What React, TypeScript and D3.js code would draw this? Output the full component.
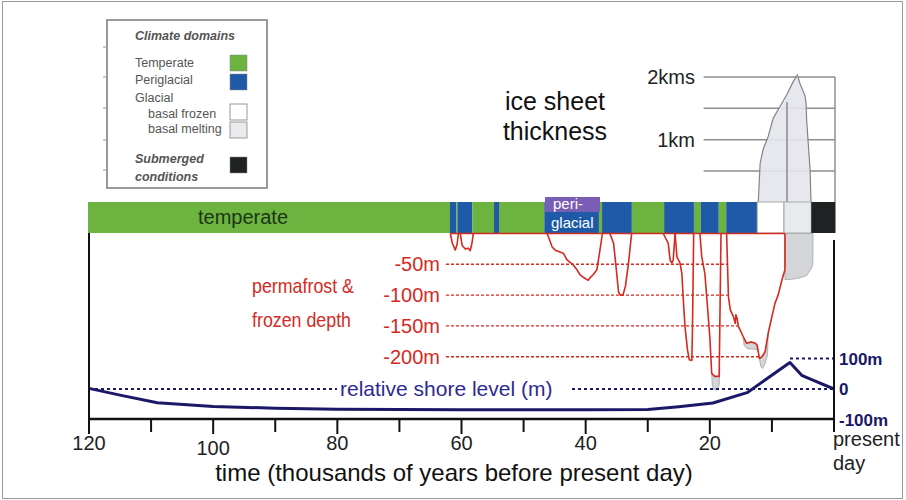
import React from "react";
import * as d3 from "d3";

// ---------- DATA ----------
const X_MAJOR = [120, 100, 80, 60, 40, 20];
const X_MINOR = [110, 90, 70, 50, 30, 10];

// climate domain strip (ky before present)
const BAR_BOUNDS = [120, 61.7, 60.7, 60.5, 58.1, 54.6, 53.8, 46.5, 37.7, 37.2, 32.4, 27.2, 22.4, 21.3, 18.4, 17.2, 12.2, 7.9, 3.5, -0.4];
const BAR_TYPES = ["T", "P", "T", "P", "T", "P", "T", "P", "T", "P", "T", "P", "T", "P", "T", "P", "F", "M", "S"];

// relative shore level (m)
const SHORE_T = [120, 115, 109, 100, 90, 80, 70, 60, 50, 40, 30, 25, 19.5, 14, 7.1, 5.2, 3.4, 0];
const SHORE_M = [2, -20, -45, -57, -63, -66, -67, -68, -68, -68, -67, -58, -46, -12, 87, 45, 29, 0];

// permafrost / frozen depth (ky, m)
const DIP_1 = [[61.8, 0], [61.5, -15], [61.0, -27], [60.7, -17], [60.5, 0]];
const DIP_2 = [[60.2, 0], [59.9, -19], [59.4, -25], [58.9, -24], [58.6, -28], [58.3, -15], [58.1, 0]];
const DIP_3 = [[46.2, 0], [45.4, -22], [44.9, -27], [43.6, -32], [43.0, -43], [42.0, -51], [41.4, -59], [40.9, -67], [40.4, -71], [39.6, -76], [39.3, -72], [38.8, -67], [38.2, -59], [37.7, -27], [37.3, 0]];
const DIP_4 = [[36.1, 0], [35.5, -16], [35.0, -65], [34.7, -95], [34.4, -100], [34.0, -100], [33.6, -86], [33.1, -48], [32.6, 0]];
const DIP_5 = [[27.5, 0], [26.7, -16], [26.4, -43], [26.1, -48], [25.9, -43], [25.6, 0]];
const DIP_6 = [[25.6, 0], [25.3, -38], [24.8, -48], [24.5, -65], [24.3, -103], [24.0, -151], [23.6, -189], [23.3, -205], [22.9, -206], [22.8, -157], [22.6, 0]];
const DIP_7 = [[21.6, 0], [21.3, -38], [20.8, -65], [20.5, -103], [20.0, -168], [19.7, -227], [19.2, -232], [18.5, -232], [18.4, -157], [18.2, 0]];
const DIP_8 = [[17.3, 0], [17.0, -103], [16.7, -124], [16.2, -135], [15.9, -146], [15.8, -132], [15.6, -138], [15.4, -151], [15.1, -157], [14.6, -168], [14.1, -178], [13.3, -176], [12.7, -178], [12.4, -181], [12.2, -192], [12.0, -203], [11.6, -200], [11.1, -192], [10.6, -162], [10.0, -135], [9.5, -113], [9.0, -100], [8.4, -76], [7.9, -59], [7.9, 0]];
const DIPS = [DIP_1, DIP_2, DIP_3, DIP_4, DIP_5, DIP_6, DIP_7, DIP_8];
const PERMA_TOP = [[61.8, 0], [7.9, 0]];

// grey frozen-ice patches under the permafrost line
const GREY_1 = [[7.9, 0], [3.4, 0], [3.4, -46], [3.6, -56], [4.4, -68], [5.5, -72], [6.6, -74], [7.9, -75]];
const GREY_2 = [[19.7, -227], [19.6, -246], [19.3, -254], [18.8, -254], [18.5, -246], [18.4, -221], [18.5, -232], [19.2, -232]];
const GREY_3 = [[14.6, -168], [14.5, -181], [14.0, -187], [12.4, -188], [12.2, -192], [12.4, -181], [12.7, -178], [13.3, -176], [14.1, -178]];
const GREY_4 = [[12.0, -203], [11.8, -216], [11.5, -219], [11.1, -211], [10.7, -197], [10.6, -162], [11.1, -192], [11.6, -200]];
const GREYS = [GREY_1, GREY_2, GREY_3, GREY_4];

const DEPTH_LEVELS = [-50, -100, -150, -200];
const DEPTH_LABELS = ["-50m", "-100m", "-150m", "-200m"];
const DEPTH_DASH_END = [17.2, 17.1, 15.4, 12.0];

// ice sheet thickness (ky, km)
const ICE = [[12.2, 0], [11.9, 0.62], [11.4, 0.85], [10.6, 1.05], [9.8, 1.34], [8.7, 1.53], [7.6, 1.72], [6.55, 1.93], [5.9, 2.03], [5.5, 1.9], [4.95, 1.77], [4.65, 1.69], [4.5, 1.58], [4.4, 1.31], [4.15, 0.94], [3.85, 0.52], [3.7, 0]];
const ICE_GRID = [0.5, 1, 1.5, 2];
const ICE_LABEL_V = [2, 1];
const ICE_LABELS = ["2kms", "1km"];

const SHORE_LEVELS = [100, 0, -100];
const SHORE_LABELS = ["100m", "0", "-100m"];

// ---------- STYLE ----------
const FONT = "'Liberation Sans', Arial, sans-serif";
const COLORS: Record<string, string> = {
  T: "#6cb33f",
  P: "#1e5aa8",
  F: "#ffffff",
  M: "#e8eaee",
  S: "#1e2222",
};
const RED = "#d42a1f";
const NAVY = "#1b1868";

export default function App() {
  const x = d3.scaleLinear().domain([120, 0]).range([89, 834]);
  const yShore = d3.scaleLinear().domain([100, -100]).range([358.5, 419.5]);
  const yDepth = d3.scaleLinear().domain([0, -200]).range([233.5, 356.7]);
  const yIce = d3.scaleLinear().domain([0, 2]).range([202.3, 77]);
  const barTop = 202;
  const barBot = 233;

  const shoreLine = d3
    .line<number>()
    .x((_, i) => x(SHORE_T[i]))
    .y((_, i) => yShore(SHORE_M[i]))
    .curve(d3.curveLinear);
  const depthLine = d3
    .line<number[]>()
    .x((p) => x(p[0]))
    .y((p) => yDepth(p[1]));
  const iceLine = d3
    .line<number[]>()
    .x((p) => x(p[0]))
    .y((p) => yIce(p[1]));

  const lg = { fontSize: 12.5, fill: "#555" };

  return (
    <svg
      width={906}
      height={500}
      style={{ position: "absolute", left: 0, top: 0, background: "#fff", display: "block" }}
      fontFamily={FONT}
    >
      <rect x={0} y={0} width={906} height={500} fill="#fff" />
      <rect x={2.5} y={1.5} width={900} height={497} fill="none" stroke="#9a9a9a" strokeWidth={1} />

      {/* Legend */}
      <g>
        <rect x={107} y={20} width={160} height={168} fill="#fff" stroke="#9a9a9a" strokeWidth={2} />
        {[47, 77, 108, 140, 170].map((v, i) => (
          <line key={i} x1={103} x2={107} y1={v} y2={v} stroke="#9a9a9a" strokeWidth={1} />
        ))}
        <text x={135} y={40} {...lg} fontStyle="italic" fontWeight="bold">Climate domains</text>
        <text x={135} y={67} {...lg}>Temperate</text>
        <rect x={230} y={55} width={17} height={16} fill={COLORS.T} stroke="#888" strokeWidth={0.5} />
        <text x={135} y={84} {...lg}>Periglacial</text>
        <rect x={230} y={74} width={17} height={16} fill={COLORS.P} stroke="#888" strokeWidth={0.5} />
        <text x={135} y={102} {...lg}>Glacial</text>
        <text x={148} y={118} {...lg}>basal frozen</text>
        <rect x={230} y={104} width={17} height={16} fill={COLORS.F} stroke="#999" strokeWidth={1} />
        <text x={148} y={133} {...lg}>basal melting</text>
        <rect x={230} y={122} width={17} height={16} fill={COLORS.M} stroke="#999" strokeWidth={1} />
        <text x={135} y={163} {...lg} fontStyle="italic" fontWeight="bold">Submerged</text>
        <text x={135} y={181} {...lg} fontStyle="italic" fontWeight="bold">conditions</text>
        <rect x={230} y={157} width={17} height={16} fill={COLORS.S} stroke="#888" strokeWidth={0.5} />
      </g>

      {/* Ice sheet thickness grid */}
      {ICE_GRID.map((v) => (
        <line key={v} x1={x(21)} x2={x(0) + 1} y1={yIce(v)} y2={yIce(v)} stroke="#8e8e8e" strokeWidth={1.5} />
      ))}
      <line x1={x(0) + 1} x2={x(0) + 1} y1={yIce(2)} y2={barTop} stroke="#8e8e8e" strokeWidth={1.5} />
      {ICE_LABEL_V.map((v, i) => (
        <text key={v} x={695} y={yIce(v) + 7} fontSize={20} textAnchor="end" fill="#222">{ICE_LABELS[i]}</text>
      ))}
      <path d={iceLine(ICE) || ""} fill="#e3e6eb" fillOpacity={0.9} stroke="#80858c" strokeWidth={1.2} />
      <line x1={x(7.57)} x2={x(7.57)} y1={yIce(1.6)} y2={barTop} stroke="#8a8a8a" strokeWidth={1.5} />

      <text x={555} y={110} fontSize={25} textAnchor="middle" fill="#111">ice sheet</text>
      <text x={555} y={140} fontSize={25} textAnchor="middle" fill="#111">thickness</text>

      {/* climate domain strip */}
      {BAR_TYPES.map((t, i) => (
        <rect
          key={i}
          x={x(BAR_BOUNDS[i]) - 1}
          y={barTop}
          width={x(BAR_BOUNDS[i + 1]) - x(BAR_BOUNDS[i])}
          height={barBot - barTop}
          fill={COLORS[t]}
          stroke={t === "F" || t === "M" ? "#a8a8a8" : "none"}
          strokeWidth={1}
        />
      ))}
      <text x={243} y={224} fontSize={20} textAnchor="middle" fill="#1b3517">temperate</text>
      <rect x={545} y={197} width={55} height={15} fill="#7a5db4" />
      <text x={553} y={209} fontSize={15} fill="#fff">peri-</text>
      <text x={551} y={228} fontSize={15} fill="#fff">glacial</text>

      {/* grey frozen ice below */}
      {GREYS.map((g, i) => (
        <path key={i} d={(depthLine(g) || "") + "Z"} fill="#d3d5d8" stroke="#a0a3a6" strokeWidth={0.8} />
      ))}

      {/* depth dashed lines */}
      {DEPTH_LEVELS.map((v, i) => (
        <g key={v}>
          <line
            x1={446}
            x2={x(DEPTH_DASH_END[i])}
            y1={yDepth(v)}
            y2={yDepth(v)}
            stroke={RED}
            strokeWidth={1.4}
            strokeDasharray="3,2"
          />
          <text x={440} y={yDepth(v) + 7} fontSize={20} textAnchor="end" fill={RED}>{DEPTH_LABELS[i]}</text>
        </g>
      ))}

      {/* permafrost lines */}
      <path d={depthLine(PERMA_TOP) || ""} fill="none" stroke={RED} strokeWidth={1.6} />
      {DIPS.map((dp, i) => (
        <path key={i} d={depthLine(dp) || ""} fill="none" stroke={RED} strokeWidth={1.6} strokeLinejoin="round" />
      ))}

      <text x={252} y={293} fontSize={21} fill={RED} textLength={102} lengthAdjust="spacingAndGlyphs">permafrost &amp;</text>
      <text x={252} y={327} fontSize={21} fill={RED} textLength={99} lengthAdjust="spacingAndGlyphs">frozen depth</text>

      {/* shore level */}
      <line x1={x(120)} x2={337} y1={yShore(0)} y2={yShore(0)} stroke={NAVY} strokeWidth={2} strokeDasharray="3,3" />
      <line x1={572} x2={x(0)} y1={yShore(0)} y2={yShore(0)} stroke={NAVY} strokeWidth={2} strokeDasharray="3,3" />
      <line x1={790} x2={x(0)} y1={yShore(100)} y2={yShore(100)} stroke={NAVY} strokeWidth={2} strokeDasharray="3,3" />
      <text x={340} y={396} fontSize={21} fill="#2d2a8e">relative shore level (m)</text>
      <path d={shoreLine(SHORE_T) || ""} fill="none" stroke={NAVY} strokeWidth={3} strokeLinejoin="round" />
      {SHORE_LEVELS.map((v, i) => (
        <text key={v} x={839} y={yShore(v) + 6} fontSize={17} fontWeight="bold" fill={NAVY}>{SHORE_LABELS[i]}</text>
      ))}

      {/* axes */}
      <line x1={x(120)} x2={x(120)} y1={barBot} y2={419} stroke="#111" strokeWidth={2} />
      <line x1={x(0)} x2={x(0)} y1={240} y2={432} stroke="#111" strokeWidth={2} />
      <line x1={x(120)} x2={x(0)} y1={419} y2={419} stroke="#111" strokeWidth={2.5} />
      {X_MAJOR.map((v) => (
        <g key={v}>
          <line x1={x(v)} x2={x(v)} y1={419} y2={434} stroke="#111" strokeWidth={2} />
          <text x={x(v)} y={v === 100 ? 455 : 450} fontSize={20} textAnchor="middle" fill="#222">{v}</text>
        </g>
      ))}
      {X_MINOR.map((v) => (
        <line key={v} x1={x(v)} x2={x(v)} y1={419} y2={432} stroke="#111" strokeWidth={2} />
      ))}
      <text x={833} y={446} fontSize={20} fill="#222">present</text>
      <text x={833} y={470} fontSize={20} fill="#222">day</text>
      <text x={454} y={481} fontSize={24} textAnchor="middle" fill="#111">time (thousands of years before present day)</text>
    </svg>
  );
}
